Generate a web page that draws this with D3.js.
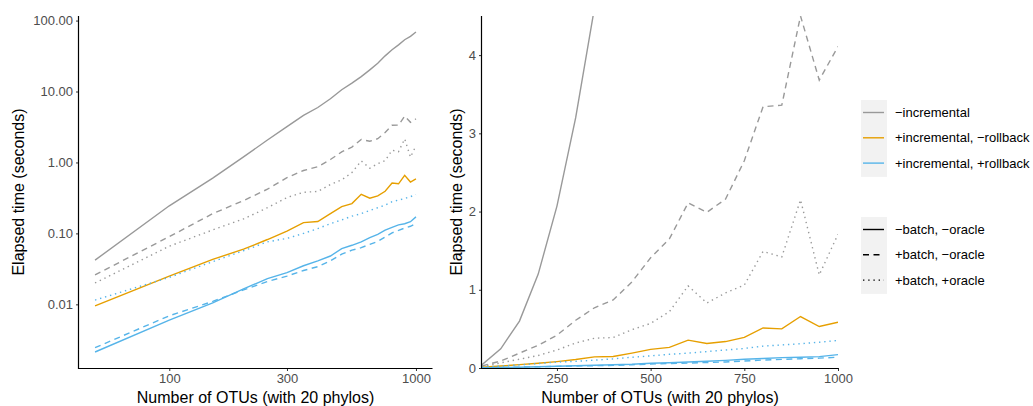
<!DOCTYPE html>
<html>
<head>
<meta charset="utf-8">
<script src="https://cdn.jsdelivr.net/npm/d3@7"></script>
<style>
  body { margin: 0; background: #fff; }
  text { font-family: "Liberation Sans", Arial, sans-serif; }
</style>
</head>
<body>
<script>
let W = 1033, H = 406;

// number of OTUs
let otus = [50, 100, 150, 200, 250, 300, 350, 400, 450, 500, 550, 600, 650, 700, 750, 800, 850, 900, 950, 1000];

// elapsed seconds, one array per configuration
let noIncr       = [0.042, 0.245, 0.60, 1.2, 2.07, 3.2, 4.6, 5.95, 7.9, 10.6, 13.1, 16.2, 20.2, 25, 31.8, 38.7, 45.5, 53.7, 60, 69];
let noIncrBatch  = [0.026, 0.09, 0.19, 0.29, 0.42, 0.61, 0.77, 0.87, 1.1, 1.41, 1.65, 2.11, 1.99, 2.16, 2.65, 3.34, 3.36, 4.5, 3.68, 4.11];
let noIncrOracle = [0.020, 0.066, 0.112, 0.16, 0.23, 0.32, 0.38, 0.39, 0.49, 0.57, 0.72, 1.05, 0.83, 0.96, 1.06, 1.49, 1.42, 2.15, 1.19, 1.71];
let noRoll       = [0.0095, 0.025, 0.043, 0.060, 0.082, 0.108, 0.142, 0.147, 0.19, 0.238, 0.263, 0.356, 0.313, 0.338, 0.392, 0.512, 0.50, 0.658, 0.53, 0.585];
let roll         = [0.00213, 0.006, 0.0105, 0.0165, 0.023, 0.028, 0.035, 0.041, 0.048, 0.061, 0.068, 0.076, 0.087, 0.097, 0.111, 0.122, 0.132, 0.137, 0.146, 0.171];
let rollBatch    = [0.00245, 0.0069, 0.011, 0.016, 0.021, 0.025, 0.030, 0.034, 0.041, 0.051, 0.058, 0.063, 0.070, 0.077, 0.089, 0.102, 0.110, 0.119, 0.126, 0.138];
let rollOracle   = [0.0115, 0.024, 0.040, 0.057, 0.076, 0.085, 0.100, 0.117, 0.137, 0.155, 0.175, 0.19, 0.21, 0.23, 0.25, 0.28, 0.295, 0.31, 0.33, 0.352];

let colourLabels = ["\u2212incremental", "+incremental, \u2212rollback", "+incremental, +rollback"];
let colours = ["#999999", "#E69F00", "#56B4E9"];
let typeLabels = ["\u2212batch, \u2212oracle", "+batch, \u2212oracle", "+batch, +oracle"];
let dashes = [null, "6,4.5", "1.4,3.8"];

let series = [
  { values: noIncr, c: 0, t: 0 },
  { values: noIncrBatch, c: 0, t: 1 },
  { values: noIncrOracle, c: 0, t: 2 },
  { values: noRoll, c: 1, t: 0 },
  { values: roll, c: 2, t: 0 },
  { values: rollBatch, c: 2, t: 1 },
  { values: rollOracle, c: 2, t: 2 }
];

let logXTicks = [100, 300, 1000];
let logYTicks = [0.01, 0.1, 1, 10, 100];
let linXTicks = [250, 500, 750, 1000];
let linYTicks = [0, 1, 2, 3, 4];

let svg = d3.select("body").append("svg")
  .attr("width", W)
  .attr("height", H);

// ggplot style 5% expansion on a log scale
function expandLog(lo, hi) {
  let a = Math.log10(lo), b = Math.log10(hi), m = (b - a) * 0.05;
  return [Math.pow(10, a - m), Math.pow(10, b + m)];
}
let allVals = series.flatMap(s => s.values);

let panels = [
  {
    left: 79, right: 432, top: 16, bottom: 368,
    x: d3.scaleLog().domain(expandLog(d3.min(otus), d3.max(otus))),
    y: d3.scaleLog().domain(expandLog(d3.min(allVals), d3.max(allVals))),
    xt: logXTicks, yt: logYTicks, yf: d3.format(".2f"), titleX: 18
  },
  {
    left: 482, right: 838, top: 16, bottom: 368,
    x: d3.scaleLinear().domain([50, 1000]),
    y: d3.scaleLinear().domain([0, 4.5]),
    xt: linXTicks, yt: linYTicks, yf: d3.format("d"), titleX: 456
  }
];

panels.forEach((p, i) => {
  p.x.range([p.left, p.right]);
  p.y.range([p.bottom, p.top]);

  svg.append("clipPath").attr("id", "clip" + i)
    .append("rect")
    .attr("x", p.left).attr("y", p.top)
    .attr("width", p.right - p.left).attr("height", p.bottom - p.top);

  let line = d3.line()
    .x((d, j) => p.x(otus[j]))
    .y(d => p.y(d));

  svg.append("g").attr("clip-path", "url(#clip" + i + ")")
    .selectAll("path")
    .data(series)
    .enter()
    .append("path")
    .attr("d", s => line(s.values))
    .attr("fill", "none")
    .attr("stroke", s => colours[s.c])
    .attr("stroke-width", 1.4)
    .attr("stroke-dasharray", s => dashes[s.t]);

  // axes
  let xAxis = svg.append("g")
    .attr("transform", "translate(0," + p.bottom + ")")
    .call(d3.axisBottom(p.x).tickValues(p.xt).tickFormat(d3.format("d")).tickSize(3).tickPadding(3));
  let yAxis = svg.append("g")
    .attr("transform", "translate(" + p.left + ",0)")
    .call(d3.axisLeft(p.y).tickValues(p.yt).tickFormat(p.yf).tickSize(3).tickPadding(3));

  [xAxis, yAxis].forEach(ax => {
    ax.select(".domain").remove();
    ax.selectAll(".tick line").attr("stroke", "#333");
    ax.selectAll(".tick text")
      .attr("fill", "#4D4D4D")
      .style("font-size", "13px")
      .style("font-family", "'Liberation Sans', Arial, sans-serif");
  });

  // axis lines
  svg.append("line")
    .attr("x1", p.left).attr("x2", p.right + 0.5)
    .attr("y1", p.bottom + 0.5).attr("y2", p.bottom + 0.5)
    .attr("stroke", "#000").attr("stroke-width", 1.2);
  svg.append("line")
    .attr("x1", p.left - 0.5).attr("x2", p.left - 0.5)
    .attr("y1", p.top).attr("y2", p.bottom + 1)
    .attr("stroke", "#000").attr("stroke-width", 1.2);

  svg.append("text")
    .attr("x", (p.left + p.right) / 2)
    .attr("y", 403)
    .attr("text-anchor", "middle")
    .style("font-size", "16px")
    .text("Number of OTUs (with 20 phylos)");

  svg.append("text")
    .attr("transform", "translate(" + (p.titleX + 6) + "," + ((p.top + p.bottom) / 2) + ") rotate(-90)")
    .attr("text-anchor", "middle")
    .style("font-size", "16px")
    .text("Elapsed time (seconds)");
});

// legends
function legend(y0, labels, styler) {
  let g = svg.append("g").attr("transform", "translate(861," + y0 + ")");
  g.append("rect")
    .attr("x", 0).attr("y", 0)
    .attr("width", 26).attr("height", labels.length * 25.3 + 1)
    .attr("fill", "#F2F2F2");
  let item = g.selectAll(".item")
    .data(labels)
    .enter()
    .append("g")
    .attr("transform", (d, i) => "translate(0," + (12.5 + i * 25.3) + ")");
  item.append("line")
    .attr("x1", 2).attr("x2", 23)
    .attr("y1", 0).attr("y2", 0)
    .each(function(d, i) { styler(d3.select(this), i); });
  item.append("text")
    .attr("x", 34)
    .attr("y", 4.5)
    .style("font-size", "13px")
    .text(d => d);
}

legend(100, colourLabels, (sel, i) => sel.attr("stroke", colours[i]).attr("stroke-width", 1.4));
legend(217, typeLabels, (sel, i) => sel.attr("stroke", "#000").attr("stroke-width", 1.4).attr("stroke-dasharray", dashes[i]));
</script>
</body>
</html>
